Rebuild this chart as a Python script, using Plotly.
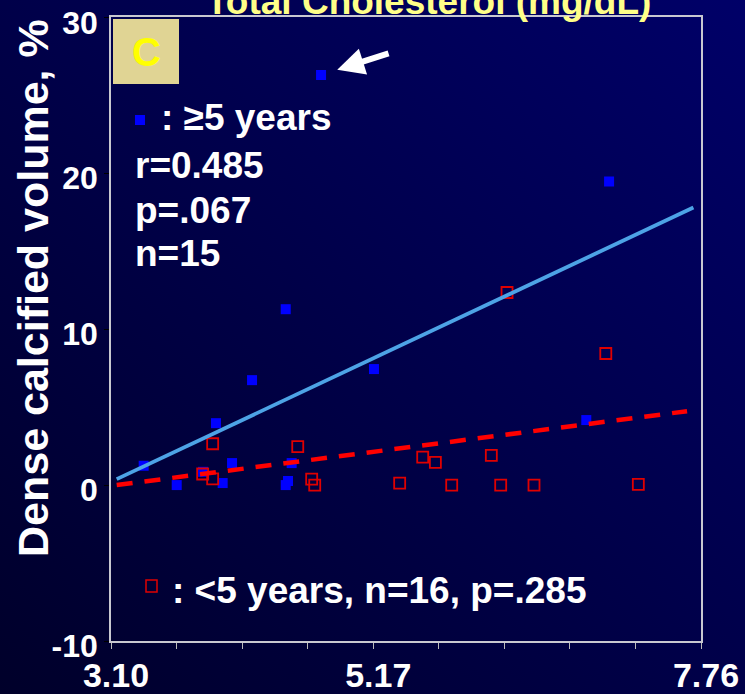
import base64
import plotly.graph_objects as go

# Total cholesterol (mmol/L) vs dense calcified volume (%)
# Group 1: >=5 years
long_x = [3.358, 3.619, 3.929, 4.056, 3.982, 3.827, 4.214, 4.527,
          4.498, 4.480, 5.177, 4.480, 4.759, 6.854, 7.034]
long_y = [1.24, 0.0, 3.97, 1.41, 0.13, 0.85, 6.73, 1.41,
          0.26, 0.0, 7.44, 11.28, 26.3, 4.17, 19.47]

# Group 2: <5 years
short_x = [3.903, 3.824, 3.903, 4.575, 4.685, 4.709, 5.380, 5.562,
           5.662, 5.791, 6.104, 6.178, 6.441, 7.265, 7.008, 6.228]
short_y = [2.65, 0.71, 0.40, 2.46, 0.38, 0.0, 0.13, 1.79,
           1.46, 0.0, 1.90, 0.0, 0.0, 0.04, 8.44, 12.35]

# Regression lines (end points)
long_fit_x = [3.145, 7.70]
long_fit_y = [0.38, 17.8]
short_fit_x = [3.145, 7.65]
short_fit_y = [0.0, 4.74]

# Axis ticks
x_min, x_max = 3.10, 7.76
n_x_steps = 9
x_tickvals = [x_min + i * (x_max - x_min) / n_x_steps for i in range(n_x_steps + 1)]
x_ticktext = ["3.10", "", "", "", "5.17", "", "", "", "", "7.76"]
y_tickvals = [-10, 0, 10, 20, 30]
y_ticktext = ["-10", "0", "10", "20", "30"]
y_range = [-10, 30.02]

W, H = 745, 694
L, R, T, B = 111, 44, 17, 53
PW, PH = W - L - R, H - T - B


def px_x(p):
    return (p - L) / PW


def px_y(p):
    return (H - B - p) / PH


FONT = "Liberation Sans, Arial, sans-serif"

fig = go.Figure()

fig.add_trace(go.Scatter(
    x=long_x, y=long_y, mode="markers",
    marker=dict(symbol="square", size=10, color="#0000FF", line=dict(width=0)),
    showlegend=False, hoverinfo="skip"))

fig.add_trace(go.Scatter(
    x=short_x, y=short_y, mode="markers",
    marker=dict(symbol="square-open", size=11, color="#E00000",
                line=dict(width=1.8, color="#E00000")),
    showlegend=False, hoverinfo="skip"))

fig.add_trace(go.Scatter(
    x=long_fit_x, y=long_fit_y, mode="lines",
    line=dict(color="#4DA3E6", width=3.8),
    showlegend=False, hoverinfo="skip"))

fig.add_trace(go.Scatter(
    x=short_fit_x, y=short_fit_y, mode="lines",
    line=dict(color="#FF0000", width=4.5, dash="16px,12px"),
    showlegend=False, hoverinfo="skip"))

# Background gradient behind the whole page
svg = (
    '<svg xmlns="http://www.w3.org/2000/svg" width="745" height="694" '
    'preserveAspectRatio="none">'
    '<defs><linearGradient id="g" x1="0" y1="1" x2="1" y2="0">'
    '<stop offset="0" stop-color="#00002A"/>'
    '<stop offset="1" stop-color="#000068"/>'
    '</linearGradient></defs>'
    '<rect width="745" height="694" fill="url(#g)"/></svg>'
)
bg_src = "data:image/svg+xml;base64," + base64.b64encode(svg.encode()).decode()
fig.add_layout_image(dict(
    source=bg_src, xref="paper", yref="paper",
    x=-L / PW, y=1 + T / PH, sizex=W / PW, sizey=H / PH,
    xanchor="left", yanchor="top", sizing="stretch", layer="below"))

# Panel label box
fig.add_shape(type="rect", xref="paper", yref="paper",
              x0=px_x(113), x1=px_x(179), y0=px_y(84), y1=px_y(19),
              fillcolor="#E0D494", line=dict(width=0), layer="above")


def bold(size, color="#FFFFFF"):
    return dict(size=size, color=color, family=FONT, weight="bold")


annotations = [
    dict(text="C", x=px_x(146), y=px_y(52), font=bold(40, "#FFFF00"),
         xanchor="center", yanchor="middle"),
    dict(text="Total Cholesterol (mg/dL)", x=px_x(428), y=px_y(1),
         font=bold(37, "#FFFF88"), xanchor="center", yanchor="middle"),
    dict(text=": \u22655 years", x=px_x(159), y=px_y(118), font=bold(37),
         xanchor="left", yanchor="middle"),
    dict(text="r=0.485", x=px_x(133), y=px_y(165), font=bold(37),
         xanchor="left", yanchor="middle"),
    dict(text="p=.067", x=px_x(133), y=px_y(210), font=bold(37),
         xanchor="left", yanchor="middle"),
    dict(text="n=15", x=px_x(133), y=px_y(253), font=bold(37),
         xanchor="left", yanchor="middle"),
    dict(text=": <5 years, n=16, p=.285", x=px_x(170), y=px_y(590),
         font=bold(37), xanchor="left", yanchor="middle"),
    dict(text="Dense calcified volume, %", x=px_x(33), y=px_y(288),
         textangle=-90, font=bold(43), xanchor="center", yanchor="middle"),
]
for a in annotations:
    a.update(xref="paper", yref="paper", showarrow=False)
    fig.add_annotation(**a)

# Legend swatches
fig.add_shape(type="rect", xref="paper", yref="paper",
              x0=px_x(135), x1=px_x(145), y0=px_y(125), y1=px_y(115),
              fillcolor="#0000FF", line=dict(width=0))
fig.add_shape(type="rect", xref="paper", yref="paper",
              x0=px_x(146), x1=px_x(157), y0=px_y(592), y1=px_y(580),
              fillcolor="rgba(0,0,0,0)", line=dict(width=1.5, color="#E00000"))

# Arrow pointing at the highest value
top_i = max(range(len(long_y)), key=lambda i: long_y[i])
fig.add_annotation(x=long_x[top_i], y=long_y[top_i], xref="x", yref="y",
                   text="", showarrow=True, ax=69, ay=-22,
                   arrowhead=2, arrowsize=0.9, arrowwidth=6,
                   arrowcolor="#FFFFFF", standoff=17)

fig.update_xaxes(
    range=[x_min, x_max], tickvals=x_tickvals, ticktext=x_ticktext,
    ticks="outside", ticklen=6, tickwidth=1, tickcolor="#BBBBBB",
    showgrid=False, zeroline=False,
    showline=True, mirror=True, linecolor="#C8C8D0", linewidth=1.5,
    tickfont=bold(34), ticklabelshift=5, ticklabelstandoff=-3,
    ticklabeloverflow="allow")
fig.update_yaxes(
    range=y_range, tickvals=y_tickvals, ticktext=y_ticktext,
    ticks="outside", ticklen=5, tickwidth=1, tickcolor="#000000",
    showgrid=False, zeroline=False,
    showline=True, mirror=True, linecolor="#C8C8D0", linewidth=1.5,
    tickfont=bold(32), ticklabelshift=5, ticklabeloverflow="allow")

fig.update_layout(
    width=W, height=H,
    margin=dict(l=L, r=R, t=T, b=B, autoexpand=False),
    paper_bgcolor="#000040", plot_bgcolor="rgba(0,0,0,0)",
)

fig.write_html("out.html")
